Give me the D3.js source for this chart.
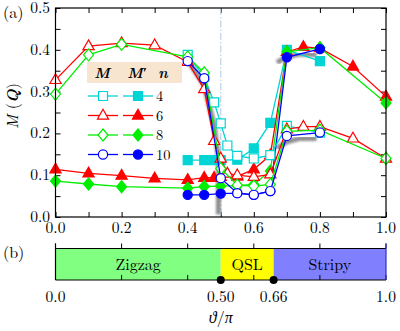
<!DOCTYPE html>
<html>
<head>
<meta charset="utf-8">
<script src="https://cdn.jsdelivr.net/npm/d3@7"></script>
<style>
  body { margin: 0; background: #fff; }
</style>
</head>
<body>
<div id="chart"></div>
<script>
// order parameter M and M' against theta/pi, for cluster sizes n
let sizes = [4, 6, 8, 10];

let mOpen4 = [[0.4,0.388],[0.45,0.335],[0.48,0.274],[0.5,0.224],[0.52,0.171],[0.55,0.146],[0.6,0.140],[0.65,0.148],[0.7,0.218],[0.8,0.202]];
let mFill4 = [[0.4,0.136],[0.45,0.136],[0.48,0.136],[0.5,0.136],[0.55,0.137],[0.6,0.164],[0.65,0.225],[0.7,0.400],[0.8,0.373]];
let mOpen6 = [[0,0.328],[0.1,0.409],[0.2,0.416],[0.3,0.411],[0.4,0.371],[0.45,0.306],[0.48,0.182],[0.5,0.140],[0.52,0.104],[0.55,0.100],[0.6,0.096],[0.65,0.102],[0.7,0.210],[0.75,0.216],[0.8,0.216],[0.9,0.188],[1.0,0.140]];
let mFill6 = [[0,0.114],[0.1,0.1045],[0.2,0.099],[0.3,0.0925],[0.4,0.089],[0.45,0.094],[0.48,0.094],[0.5,0.096],[0.55,0.097],[0.6,0.114],[0.65,0.148],[0.7,0.395],[0.75,0.407],[0.8,0.404],[0.9,0.360],[1.0,0.288]];
let mOpen8 = [[0,0.294],[0.1,0.388],[0.2,0.413],[0.4,0.383],[0.45,0.345],[0.5,0.116],[0.55,0.076],[0.6,0.074],[0.65,0.078],[0.7,0.205],[0.8,0.208],[1.0,0.140]];
let mFill8 = [[0,0.086],[0.1,0.079],[0.2,0.0725],[0.4,0.069],[0.45,0.073],[0.5,0.074],[0.55,0.075],[0.6,0.078],[0.65,0.110],[0.7,0.395],[0.8,0.405],[1.0,0.273]];
let mOpen10 = [[0.4,0.373],[0.45,0.332],[0.5,0.093],[0.55,0.057],[0.6,0.053],[0.65,0.062],[0.7,0.194],[0.8,0.202]];
let mFill10 = [[0.4,0.053],[0.45,0.053],[0.5,0.056],[0.55,0.057],[0.6,0.053],[0.65,0.062],[0.7,0.382],[0.8,0.402]];

// extrapolated curves (thick grey), drawn as separate pieces
let limitDrop = [[0.4,0.375],[0.45,0.315],[0.48,0.22],[0.493,0.14],[0.493,0.006]];
let limitFloor = [[0.493,0.006],[0.67,0.006]];
let limitLow = [[0.67,0.165],[0.7,0.18],[0.74,0.188],[0.79,0.188]];
let limitHigh = [[0.67,0.37],[0.7,0.383],[0.74,0.39],[0.79,0.388]];

let xTicks = [0, 0.2, 0.4, 0.6, 0.8, 1.0];
let yTicks = [0, 0.1, 0.2, 0.3, 0.4, 0.5];

// phase diagram
let phaseNames = ["Zigzag", "QSL", "Stripy"];
let phaseBounds = [0, 0.5, 0.66, 1.0];
let criticalPoints = [0.5, 0.66];
let phaseTickLabels = ["0.0", "0.50", "0.66", "1.0"];

let colors = ["#00d4d4", "#ff0000", "#00ee00", "#0000ff"];
let phaseColors = ["#80ff80", "#ffff00", "#8080ff"];

let width = 400, height = 331;
let serif = "'Latin Modern Roman', 'Liberation Serif', serif";

let svg = d3.select("#chart").append("svg")
    .attr("width", width)
    .attr("height", height);

let x = d3.scaleLinear().domain([0, 1]).range([55.5, 386]);
let y = d3.scaleLinear().domain([0, 0.5]).range([217, 8]);

let defs = svg.append("defs");
defs.append("filter").attr("id", "soft")
    .append("feGaussianBlur").attr("stdDeviation", 1.1);
let clip = defs.append("clipPath").attr("id", "plotclip");
clip.append("rect").attr("x", x(0)).attr("y", y(0.5))
    .attr("width", x(1) - x(0)).attr("height", y(0) - y(0.5));

// axes with inward ticks on all four sides
function tickAxes() {
  let minorX = d3.range(0, 1.001, 0.1);
  let minorY = d3.range(0, 0.501, 0.05);
  svg.append("g").attr("transform", "translate(0," + y(0) + ")")
      .call(d3.axisBottom(x).tickValues(minorX).tickSize(-5).tickFormat(""))
      .call(g => g.select(".domain").remove());
  svg.append("g").attr("transform", "translate(0," + y(0.5) + ")")
      .call(d3.axisTop(x).tickValues(minorX).tickSize(-5).tickFormat(""))
      .call(g => g.select(".domain").remove());
  svg.append("g").attr("transform", "translate(" + x(0) + ",0)")
      .call(d3.axisLeft(y).tickValues(minorY).tickSize(-5).tickFormat(""))
      .call(g => g.select(".domain").remove());
  svg.append("g").attr("transform", "translate(" + x(1) + ",0)")
      .call(d3.axisRight(y).tickValues(minorY).tickSize(-5).tickFormat(""))
      .call(g => g.select(".domain").remove());
  svg.selectAll(".tick line").attr("stroke", "#000").attr("stroke-width", 1);
  svg.selectAll(".tick text").remove();
}
tickAxes();

// dash-dot line at the first transition
svg.append("line")
    .attr("x1", x(0.5)).attr("x2", x(0.5))
    .attr("y1", y(0.5)).attr("y2", y(0))
    .attr("stroke", "#bcd2e6")
    .attr("stroke-width", 1.2)
    .attr("stroke-dasharray", "7,2,1.5,2");

let line = d3.line().x(d => x(d[0])).y(d => y(d[1]));

let plot = svg.append("g").attr("clip-path", "url(#plotclip)");

[limitDrop, limitFloor, limitLow, limitHigh].forEach(function (c) {
  plot.append("path")
      .attr("d", line(c))
      .attr("fill", "none")
      .attr("stroke", "#6a6a6a")
      .attr("stroke-width", 5)
      .attr("stroke-linejoin", "round")
      .attr("opacity", 0.75)
      .attr("filter", "url(#soft)");
});

let shapes = [
  "M-4.5,-4.5H4.5V4.5H-4.5Z",
  "M0,-6.2L5.6,3.6H-5.6Z",
  "M0,-6L5,0L0,6L-5,0Z",
  null
];

function marker(sel, i, filled) {
  let c = colors[i];
  let m;
  if (shapes[i]) {
    m = sel.append("path").attr("d", shapes[i]);
  } else {
    m = sel.append("circle").attr("r", 4.6);
  }
  m.attr("fill", filled ? c : "#fff")
   .attr("stroke", c)
   .attr("stroke-width", 1.2);
  return m;
}

let filledSets = [mFill4, mFill6, mFill8, mFill10];
let openSets = [mOpen4, mOpen6, mOpen8, mOpen10];

function drawSeries(data, i, filled) {
  let g = svg.append("g");
  g.append("path")
      .attr("d", line(data))
      .attr("fill", "none")
      .attr("stroke", colors[i])
      .attr("stroke-width", 1.3);
  g.selectAll("g.pt")
      .data(data)
      .enter().append("g").attr("class", "pt")
      .attr("transform", d => "translate(" + x(d[0]) + "," + y(d[1]) + ")")
      .each(function () { marker(d3.select(this), i, filled); });
}

filledSets.forEach((d, i) => drawSeries(d, i, true));
openSets.forEach((d, i) => drawSeries(d, i, false));

// frame
svg.append("rect")
    .attr("x", x(0)).attr("y", y(0.5))
    .attr("width", x(1) - x(0)).attr("height", y(0) - y(0.5))
    .attr("fill", "none").attr("stroke", "#000").attr("stroke-width", 1.2);

// tick labels
svg.selectAll("text.xl").data(xTicks).enter().append("text")
    .attr("x", d => x(d)).attr("y", 232.5)
    .attr("text-anchor", "middle")
    .attr("font-size", 15.5)
    .text(d => d.toFixed(1));
svg.selectAll("text.yl").data(yTicks).enter().append("text")
    .attr("x", 50).attr("y", d => y(d) + 5)
    .attr("text-anchor", "end")
    .attr("font-size", 15.5)
    .text(d => d.toFixed(1));

svg.append("text").attr("x", 3).attr("y", 18).attr("font-size", 16).text("(a)");

let yTitle = svg.append("text")
    .attr("transform", "translate(18,106) rotate(-90)")
    .attr("text-anchor", "middle")
    .attr("font-size", 16);
yTitle.append("tspan").attr("font-style", "italic").text("M");
yTitle.append("tspan").text(" (");
yTitle.append("tspan").attr("font-style", "italic").attr("font-weight", "bold").text("Q");
yTitle.append("tspan").text(")");

// legend
let lg = svg.append("g");
lg.append("rect").attr("x", 87).attr("y", 62).attr("width", 95).attr("height", 21)
    .attr("fill", "#f7e5d0");
[["M", 102], ["M\u2032", 137], ["n", 163]].forEach(function (h) {
  lg.append("text").attr("x", h[1]).attr("y", 77.5)
      .attr("text-anchor", "middle")
      .attr("font-size", 14.5)
      .attr("font-style", "italic")
      .attr("font-weight", "bold")
      .text(h[0]);
});
sizes.forEach(function (n, i) {
  let ry = 96 + i * 19.5;
  [[88, 118, 103, false], [123, 153, 138, true]].forEach(function (p) {
    lg.append("line").attr("x1", p[0]).attr("x2", p[1]).attr("y1", ry).attr("y2", ry)
        .attr("stroke", colors[i]).attr("stroke-width", 1.3);
    marker(lg.append("g").attr("transform", "translate(" + p[2] + "," + ry + ")"), i, p[3]);
  });
  lg.append("text").attr("x", 156).attr("y", ry + 5)
      .attr("font-size", 14.5).text(n);
});

// panel (b): phase bar
let barTop = 248.5, barBottom = 280;
svg.append("text").attr("x", 3).attr("y", 258).attr("font-size", 16).text("(b)");

let bar = svg.append("g");
bar.selectAll("rect.ph").data(phaseNames).enter().append("rect")
    .attr("x", (d, i) => x(phaseBounds[i]))
    .attr("width", (d, i) => x(phaseBounds[i + 1]) - x(phaseBounds[i]))
    .attr("y", barTop).attr("height", barBottom - barTop)
    .attr("fill", (d, i) => phaseColors[i]);
bar.selectAll("text.ph").data(phaseNames).enter().append("text")
    .attr("x", (d, i) => x((phaseBounds[i] + phaseBounds[i + 1]) / 2))
    .attr("y", 270)
    .attr("text-anchor", "middle")
    .attr("font-size", 16)
    .text(d => d);

let barTicks = d3.range(0, 1.001, 0.2);
bar.selectAll("line.tt").data(barTicks).enter().append("line")
    .attr("x1", d => x(d)).attr("x2", d => x(d))
    .attr("y1", barTop).attr("y2", barTop - 5)
    .attr("stroke", "#000");
bar.selectAll("line.bt").data(barTicks).enter().append("line")
    .attr("x1", d => x(d)).attr("x2", d => x(d))
    .attr("y1", barBottom).attr("y2", barBottom - 5)
    .attr("stroke", "#000");
bar.append("line").attr("x1", x(0)).attr("x2", x(1)).attr("y1", barTop).attr("y2", barTop)
    .attr("stroke", "#000").attr("stroke-width", 1.2);
bar.append("line").attr("x1", x(0)).attr("x2", x(1)).attr("y1", barBottom).attr("y2", barBottom)
    .attr("stroke", "#000").attr("stroke-width", 1.2);
bar.append("line").attr("x1", x(0)).attr("x2", x(0)).attr("y1", barTop - 5).attr("y2", barBottom)
    .attr("stroke", "#000").attr("stroke-width", 1.2);
bar.append("line").attr("x1", x(1)).attr("x2", x(1)).attr("y1", barTop - 5).attr("y2", barBottom)
    .attr("stroke", "#3030c0").attr("stroke-width", 1.2);

bar.selectAll("circle.cp").data(criticalPoints).enter().append("circle")
    .attr("cx", d => x(d)).attr("cy", barBottom).attr("r", 4)
    .attr("fill", "#000");

bar.selectAll("text.bl").data(phaseBounds).enter().append("text")
    .attr("x", d => x(d)).attr("y", 302)
    .attr("text-anchor", "middle")
    .attr("font-size", 15.5)
    .text((d, i) => phaseTickLabels[i]);

let xTitle = svg.append("text").attr("x", x(0.5)).attr("y", 323)
    .attr("text-anchor", "middle").attr("font-size", 16);
xTitle.append("tspan").attr("font-style", "italic").text("\u03D1");
xTitle.append("tspan").text("/");
xTitle.append("tspan").attr("font-style", "italic").text("\u03C0");

// every label in the serif face
svg.selectAll("text").attr("font-family", serif).attr("fill", "#000");
</script>
</body>
</html>
